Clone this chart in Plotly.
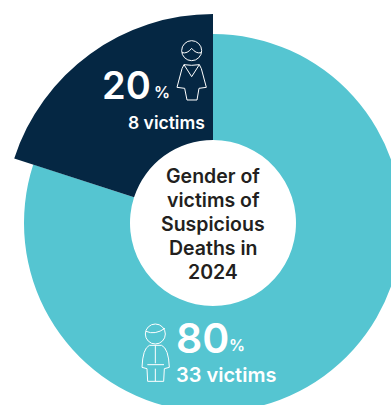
import plotly.graph_objects as go

genders = ["Male", "Female"]
shares = [80, 20]
victims = [33, 8]
title_lines = ["Gender of", "victims of", "Suspicious", "Deaths in", "2024"]

TEAL = "#55c5d1"
NAVY = "#052743"
W, H = 440, 440
FONT = "Inter"


def X(px):
    return px / W


def Y(py):
    return 1 - py / H


def dom(cx, cy, r):
    return dict(x=[X(cx - r), X(cx + r)], y=[Y(cy + r), Y(cy - r)])


CX, CY, INNER = 213, 223, 83
R_MALE, R_FEMALE = 189, 209


def pie(colors, r):
    return go.Pie(
        labels=genders, values=shares, sort=False, direction="clockwise", rotation=0,
        hole=INNER / r, domain=dom(CX, CY, r), textinfo="none", hoverinfo="label+percent",
        marker=dict(colors=colors, line=dict(width=0)), showlegend=False,
    )


fig = go.Figure([
    pie([TEAL, "rgba(0,0,0,0)"], R_MALE),
    pie(["rgba(0,0,0,0)", NAVY], R_FEMALE),
])


def note(x, y, text, size, color="#ffffff", anchor="center", weight=600, yanchor="middle"):
    return dict(x=X(x), y=Y(y), xref="paper", yref="paper", text=text, showarrow=False,
                xanchor=anchor, yanchor=yanchor, align="center",
                font=dict(family=FONT, size=size, color=color, weight=weight))


title_y = [176, 200, 224, 248, 272]
annotations = [note(213, y, line, 19.5, "#231f20", weight=600) for y, line in zip(title_y, title_lines)]
annotations += [
    note(100, 85, f"{shares[1]}", 38, anchor="left", weight=600),
    note(152, 92, "%", 16, anchor="left"),
    note(207, 122, f"{victims[1]} victims", 17.5, anchor="right", weight=600),
    note(174, 338, f"{shares[0]}", 41, anchor="left", weight=600),
    note(227, 345, "%", 16, anchor="left"),
    note(174, 375, f"{victims[0]} victims", 20, anchor="left", weight=600),
]


def path(points_cmds, ox, oy):
    out = []
    for item in points_cmds:
        cmd, coords = item[0], item[1:]
        parts = []
        for i in range(0, len(coords), 2):
            parts.append(f"{X(ox + coords[i] / 3):.5f},{Y(oy + coords[i + 1] / 3):.5f}")
        out.append(cmd + " " + " ".join(parts))
    return " ".join(out)


def circle(cx, cy, r):
    return dict(type="circle", xref="paper", yref="paper", x0=X(cx - r), x1=X(cx + r),
                y0=Y(cy + r), y1=Y(cy - r), line=dict(color="white", width=1))


def stroke(d):
    return dict(type="path", xref="paper", yref="paper", path=d, line=dict(color="white", width=1))


FOX, FOY = 90, 30
MOX, MOY = 130, 310
shapes = [
    circle(FOX + 305 / 3, FOY + 62 / 3, 10),
    stroke(path([("M", 276, 68), ("Q", 292, 72, 305, 55), ("Q", 318, 72, 334, 68)], FOX, FOY)),
    stroke(path([("M", 282, 104), ("Q", 305, 108, 328, 104), ("L", 334, 116), ("L", 349, 172),
                 ("L", 327, 175), ("L", 321, 210), ("L", 291, 210), ("L", 284, 175),
                 ("L", 261, 172), ("L", 276, 116), ("Z",)], FOX, FOY)),
    stroke(path([("M", 282, 104), ("L", 305, 140), ("L", 328, 104)], FOX, FOY)),
    circle(MOX + 76 / 3, MOY + 72 / 3, 10),
    stroke(path([("M", 48, 64), ("Q", 75, 76, 105, 55)], MOX, MOY)),
    stroke(path([("M", 58, 106), ("L", 95, 106), ("Q", 116, 116, 118, 172), ("L", 103, 176),
                 ("L", 101, 214), ("L", 53, 214), ("L", 51, 176), ("L", 36, 172),
                 ("Q", 38, 116, 58, 106), ("Z",)], MOX, MOY)),
    stroke(path([("M", 76, 106), ("L", 76, 160), ("M", 52, 164), ("L", 102, 164),
                 ("M", 76, 176), ("L", 76, 214)], MOX, MOY)),
]

fig.update_layout(
    width=W, height=H, margin=dict(l=0, r=0, t=0, b=0, pad=0),
    paper_bgcolor="white", plot_bgcolor="white",
    annotations=annotations, shapes=shapes, showlegend=False,
)

fig.write_html(
    "out.html",
    config=dict(displayModeBar=False, responsive=False),
    post_script="document.documentElement.style.overflow='hidden';document.body.style.margin='0';document.body.style.overflow='hidden';",
)
